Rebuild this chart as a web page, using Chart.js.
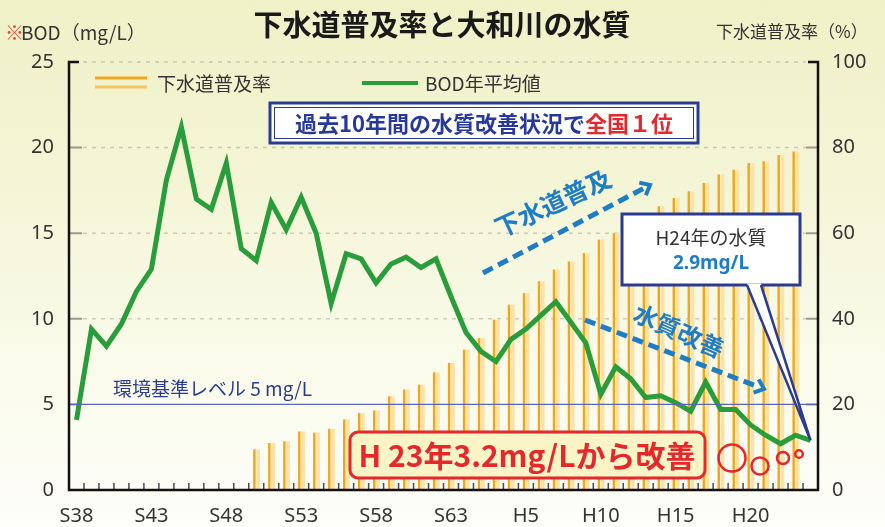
<!DOCTYPE html>
<html>
<head>
<meta charset="utf-8">
<script src="https://cdn.jsdelivr.net/npm/chart.js@4.4.1/dist/chart.umd.min.js"></script>
<style>
html, body { margin: 0; padding: 0; }
body {
    width: 885px; height: 527px; overflow: hidden;
    background: linear-gradient(to bottom, #eff1c7 0%, #f4f5d6 35%, #fafbeb 70%, #fefefa 100%);
}
canvas { display: block; }
</style>
</head>
<body>
<canvas id="chart" width="885" height="527"></canvas>
<script>
// 年度（S38〜H24）
const years = [
    'S38','S39','S40','S41','S42','S43','S44','S45','S46','S47','S48','S49','S50',
    'S51','S52','S53','S54','S55','S56','S57','S58','S59','S60','S61','S62','S63',
    'H1','H2','H3','H4','H5','H6','H7','H8','H9','H10','H11','H12','H13','H14',
    'H15','H16','H17','H18','H19','H20','H21','H22','H23','H24'
];
const shownTicks = ['S38','S43','S48','S53','S58','S63','H5','H10','H15','H20'];

// BOD年平均値 (mg/L)
const bod = [
    4.1, 9.4, 8.4, 9.7, 11.6, 12.9, 18.1, 21.2, 17.0, 16.4, 19.1, 14.1, 13.4,
    16.8, 15.2, 17.1, 15.0, 10.9, 13.8, 13.5, 12.1, 13.2, 13.6, 13.0, 13.5, 11.3,
    9.2, 8.1, 7.5, 8.8, 9.4, 10.2, 11.0, 9.8, 8.6, 5.6, 7.2, 6.5, 5.4, 5.5,
    5.1, 4.6, 6.3, 4.7, 4.7, 3.8, 3.2, 2.7, 3.2, 2.9
];

// 下水道普及率 (%)
const sewer = [
    null, null, null, null, null, null, null, null, null, null, null, null, 9.5,
    11.0, 11.4, 13.7, 13.4, 14.3, 16.5, 18.0, 18.6, 21.9, 23.5, 24.6, 27.5, 29.7,
    32.8, 35.5, 39.8, 43.3, 46.0, 48.8, 51.5, 53.4, 55.4, 58.5, 60.0, 62.0, 63.5, 66.3,
    68.2, 69.8, 71.7, 73.7, 74.8, 76.4, 76.8, 78.3, 79.1, null
];

const standardLevel = 5; // 環境基準 mg/L

const JP = '"Noto Sans CJK JP", "Noto Sans", sans-serif';
const NUM = '"Noto Sans", "DejaVu Sans", sans-serif';
const GREEN = '#2a9d3b';
const ORANGE = '#f3a51b';
const PALE = '#fde2a6';
const NAVY = '#2a3c92';
const SKY = '#1f7dc6';
const RED = '#e4282b';

function dashedArrow(ctx, x1, y1, x2, y2) {
    const ang = Math.atan2(y2 - y1, x2 - x1);
    ctx.save();
    ctx.strokeStyle = SKY;
    ctx.lineWidth = 5;
    ctx.setLineDash([11, 6]);
    ctx.beginPath();
    ctx.moveTo(x1, y1);
    ctx.lineTo(x2 - 6 * Math.cos(ang), y2 - 6 * Math.sin(ang));
    ctx.stroke();
    ctx.setLineDash([]);
    ctx.lineWidth = 4;
    ctx.beginPath();
    ctx.moveTo(x2 - 11 * Math.cos(ang - 0.7), y2 - 11 * Math.sin(ang - 0.7));
    ctx.lineTo(x2, y2);
    ctx.lineTo(x2 - 11 * Math.cos(ang + 0.7), y2 - 11 * Math.sin(ang + 0.7));
    ctx.stroke();
    ctx.restore();
}

function rotatedText(ctx, text, cx, cy, deg, font, color) {
    ctx.save();
    ctx.translate(cx, cy);
    ctx.rotate(deg * Math.PI / 180);
    ctx.font = font;
    ctx.fillStyle = color;
    ctx.textAlign = 'center';
    ctx.textBaseline = 'middle';
    ctx.fillText(text, 0, 0);
    ctx.restore();
}

const decorPlugin = {
    id: 'decor',
    beforeDatasetsDraw(chart) {
        const ctx = chart.ctx;
        const y = chart.scales.y;
        const L = chart.chartArea.left, R = chart.chartArea.right;
        ctx.save();
        [10, 15, 20, 25].forEach(v => {
            const py = y.getPixelForValue(v);
            ctx.strokeStyle = 'rgba(150,150,140,0.45)';
            ctx.lineWidth = 1.5;
            ctx.setLineDash([4, 5]);
            ctx.beginPath();
            ctx.moveTo(L + 14, py);
            ctx.lineTo(R - 12, py);
            ctx.stroke();
        });
        ctx.setLineDash([]);
        [5, 10, 15, 20].forEach(v => {
            const py = y.getPixelForValue(v);
            ctx.strokeStyle = '#9a9a90';
            ctx.lineWidth = 2;
            ctx.beginPath();
            ctx.moveTo(L, py); ctx.lineTo(L + 13, py);
            ctx.moveTo(R - 12, py); ctx.lineTo(R, py);
            ctx.stroke();
        });
        ctx.restore();
    },
    afterDatasetsDraw(chart) {
        const ctx = chart.ctx;
        const x = chart.scales.x, y = chart.scales.y;
        const { left: L, right: R, top: T, bottom: B } = chart.chartArea;
        ctx.save();
        // 環境基準ライン
        const sy = y.getPixelForValue(standardLevel);
        ctx.strokeStyle = '#5b65b5';
        ctx.lineWidth = 1.3;
        ctx.beginPath();
        ctx.moveTo(L, sy); ctx.lineTo(R, sy);
        ctx.stroke();
        // 目盛り
        ctx.strokeStyle = '#4a4a52';
        ctx.lineWidth = 1.5;
        ctx.beginPath();
        for (let i = 0; i < years.length - 1; i++) {
            const bx = (x.getPixelForValue(i) + x.getPixelForValue(i + 1)) / 2;
            ctx.moveTo(bx, B); ctx.lineTo(bx, B - 7);
        }
        ctx.stroke();
        // 軸線
        ctx.strokeStyle = '#111';
        ctx.lineWidth = 2.5;
        ctx.beginPath();
        ctx.moveTo(L + 10, T); ctx.lineTo(L, T); ctx.lineTo(L, B); ctx.lineTo(R, B); ctx.lineTo(R, T); ctx.lineTo(R - 10, T);
        ctx.stroke();
        ctx.restore();
    },
    afterDraw(chart) {
        const ctx = chart.ctx;
        const x = chart.scales.x, y = chart.scales.y;
        ctx.save();
        ctx.textBaseline = 'middle';

        // タイトル
        ctx.font = `bold 29px ${JP}`;
        ctx.fillStyle = '#1a1a1a';
        ctx.textAlign = 'center';
        ctx.fillText('下水道普及率と大和川の水質', 442, 25);

        // 軸タイトル
        ctx.textAlign = 'left';
        ctx.font = `19px ${JP}`;
        ctx.fillStyle = '#e8453c';
        ctx.fillText('※', 5, 33);
        const kw = ctx.measureText('※').width;
        ctx.fillStyle = '#333';
        ctx.fillText('BOD（mg/L）', 5 + kw - 3, 33);
        ctx.font = `17px ${JP}`;
        ctx.fillText('下水道普及率（%）', 716, 32);

        // 凡例
        ctx.lineWidth = 3;
        ctx.strokeStyle = ORANGE;
        ctx.beginPath(); ctx.moveTo(95, 78); ctx.lineTo(147, 78); ctx.stroke();
        ctx.strokeStyle = '#f8c465';
        ctx.beginPath(); ctx.moveTo(95, 87); ctx.lineTo(147, 87); ctx.stroke();
        ctx.strokeStyle = GREEN;
        ctx.lineWidth = 4;
        ctx.beginPath(); ctx.moveTo(362, 83); ctx.lineTo(418, 83); ctx.stroke();
        ctx.font = `19px ${JP}`;
        ctx.fillStyle = '#333';
        ctx.fillText('下水道普及率', 157, 84);
        ctx.fillText('BOD年平均値', 425, 84);

        // 全国1位ボックス
        ctx.fillStyle = '#ffffff';
        ctx.fillRect(270, 103, 428, 40);
        ctx.strokeStyle = NAVY;
        ctx.lineWidth = 3;
        ctx.strokeRect(270, 103, 428, 40);
        ctx.lineWidth = 1;
        ctx.strokeRect(274.5, 107.5, 419, 31);
        ctx.font = `bold 22px ${JP}`;
        const t1 = '過去10年間の水質改善状況で', t2 = '全国１位';
        const w1 = ctx.measureText(t1).width, w2 = ctx.measureText(t2).width;
        let sx = 484 - (w1 + w2) / 2;
        ctx.fillStyle = '#26399a';
        ctx.fillText(t1, sx, 124);
        ctx.fillStyle = RED;
        ctx.fillText(t2, sx + w1, 124);

        // 下水道普及 矢印
        dashedArrow(ctx, 483, 273, 650, 185);
        rotatedText(ctx, '下水道普及', 553, 203, -25, `bold 25px ${JP}`, SKY);

        // 水質改善 矢印
        dashedArrow(ctx, 585, 320, 764, 389);
        rotatedText(ctx, '水質改善', 679, 331, 24, `bold 24px ${JP}`, SKY);

        // 環境基準
        ctx.font = `19px ${JP}`;
        ctx.fillStyle = '#2b3d8f';
        ctx.textAlign = 'left';
        ctx.fillText('環境基準レベル 5 mg/L', 113, 389);

        // H23 ボックス
        ctx.beginPath();
        ctx.roundRect(350, 432, 355, 46, 8);
        ctx.fillStyle = '#fbf4c6';
        ctx.fill();
        ctx.strokeStyle = RED;
        ctx.lineWidth = 3;
        ctx.stroke();
        ctx.font = `bold 30px ${JP}`;
        ctx.fillStyle = RED;
        ctx.textAlign = 'center';
        ctx.fillText('H 23年3.2mg/Lから改善', 527, 456);

        // ○○○
        ctx.strokeStyle = RED;
        ctx.lineWidth = 2.5;
        [[732, 458, 13.5], [760, 466, 8.5], [783, 458, 6], [799, 454, 3.8]].forEach(c => {
            ctx.beginPath(); ctx.arc(c[0], c[1], c[2], 0, Math.PI * 2); ctx.stroke();
        });

        // H24 吹き出し
        const px = x.getPixelForValue(years.length - 1);
        const py = y.getPixelForValue(bod[bod.length - 1]);
        ctx.fillStyle = '#ffffff';
        ctx.fillRect(622, 214, 178, 71);
        ctx.strokeStyle = NAVY;
        ctx.lineWidth = 3;
        ctx.strokeRect(622, 214, 178, 71);
        ctx.beginPath();
        ctx.moveTo(747, 283.5); ctx.lineTo(px, py); ctx.lineTo(761, 283.5);
        ctx.closePath();
        ctx.fill();
        ctx.lineWidth = 2.5;
        ctx.beginPath();
        ctx.moveTo(747, 285); ctx.lineTo(px, py); ctx.lineTo(761, 285);
        ctx.stroke();
        ctx.textAlign = 'center';
        ctx.font = `19px ${JP}`;
        ctx.fillStyle = '#333';
        ctx.fillText('H24年の水質', 711, 238);
        ctx.font = `bold 19px ${NUM}`;
        ctx.fillStyle = SKY;
        ctx.fillText('2.9mg/L', 711, 264);

        ctx.restore();
    }
};

const ctx = document.getElementById('chart').getContext('2d');
new Chart(ctx, {
    type: 'bar',
    data: {
        labels: years,
        datasets: [
            {
                type: 'line',
                label: 'BOD年平均値',
                data: bod,
                yAxisID: 'y',
                borderColor: GREEN,
                borderWidth: 5,
                pointRadius: 0,
                tension: 0,
                borderJoinStyle: 'miter',
                order: 0
            },
            {
                label: '下水道普及率',
                data: sewer,
                yAxisID: 'y2',
                backgroundColor: ORANGE,
                categoryPercentage: 0.5,
                barPercentage: 0.65,
                order: 1
            },
            {
                label: '下水道普及率（淡）',
                data: sewer,
                yAxisID: 'y2',
                backgroundColor: PALE,
                categoryPercentage: 0.5,
                barPercentage: 1,
                order: 1
            }
        ]
    },
    options: {
        responsive: false,
        animation: false,
        devicePixelRatio: 1,
        layout: { padding: { top: 62, left: 0, right: 0, bottom: 0 } },
        plugins: { legend: { display: false }, tooltip: { enabled: false } },
        scales: {
            x: {
                offset: true,
                grid: { display: false, drawTicks: false },
                border: { display: false },
                ticks: {
                    autoSkip: false,
                    maxRotation: 0,
                    padding: 14,
                    color: '#333',
                    font: { family: NUM, size: 20 },
                    callback: (v, i) => shownTicks.includes(years[i]) ? years[i] : ''
                },
                afterFit: s => { s.height = 37; }
            },
            y: {
                position: 'left',
                min: 0, max: 25,
                grid: { display: false, drawTicks: false },
                border: { display: false },
                ticks: { stepSize: 5, padding: 15, color: '#333', font: { family: NUM, size: 20 } },
                afterFit: s => { s.width = 69; }
            },
            y2: {
                position: 'right',
                min: 0, max: 100,
                grid: { display: false, drawTicks: false },
                border: { display: false },
                ticks: { stepSize: 20, padding: 14, color: '#333', font: { family: NUM, size: 20 } },
                afterFit: s => { s.width = 67; }
            }
        }
    },
    plugins: [decorPlugin]
});
</script>
</body>
</html>
